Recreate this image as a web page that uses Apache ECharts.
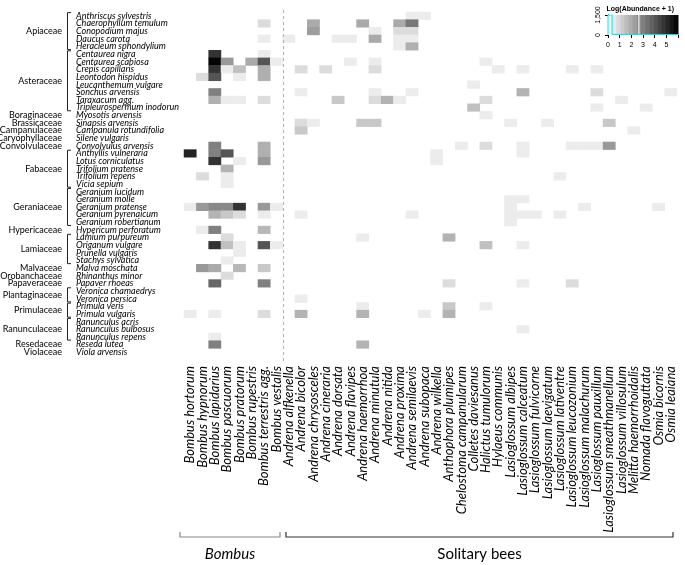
<!DOCTYPE html>
<html><head><meta charset="utf-8">
<script src="https://cdn.jsdelivr.net/npm/echarts@6/dist/echarts.min.js"></script>
<style>html,body{margin:0;padding:0;background:#fff}#c{width:685px;height:565px}</style>
</head><body><div id="c"></div>
<script>
const beeSpecies = ['Bombus hortorum','Bombus hypnorum','Bombus lapidarius','Bombus pascuorum','Bombus pratorum','Bombus rupestris','Bombus terrestris agg.','Bombus vestalis',
 'Andrena alfkenella','Andrena bicolor','Andrena chrysosceles','Andrena cineraria','Andrena dorsata','Andrena flavipes','Andrena haemorrhoa','Andrena minutula','Andrena nitida','Andrena proxima','Andrena semilaevis','Andrena subopaca','Andrena wilkella',
 'Anthophora plumipes','Chelostoma campanularum','Colletes daviesanus','Halictus tumulorum','Hylaeus communis',
 'Lasioglossum albipes','Lasioglossum calceatum','Lasioglossum fulvicorne','Lasioglossum laevigatum','Lasioglossum lativentre','Lasioglossum leucozonium','Lasioglossum malachurum','Lasioglossum pauxillum','Lasioglossum smeathmanellum','Lasioglossum villosulum',
 'Melitta haemorrhoidalis','Nomada flavoguttata','Osmia bicornis','Osmia leaiana'];
const beeGroups = ['Bombus','Solitary bees'];
const beeGroupSizes = [8, 32];

const plantSpecies = ['Anthriscus sylvestris','Chaerophyllum temulum','Conopodium majus','Daucus carota','Heracleum sphondylium',
 'Centaurea nigra','Centaurea scabiosa','Crepis capillaris','Leontodon hispidus','Leucanthemum vulgare','Sonchus arvensis','Taraxacum agg.','Tripleurospermum inodorun',
 'Myosotis arvensis','Sinapsis arvensis','Campanula rotundifolia','Silene vulgaris','Convolvulus arvensis',
 'Anthyllis vulneraria','Lotus corniculatus','Trifolium pratense','Trifolium repens','Vicia sepium',
 'Geranium lucidum','Geranium molle','Geranium pratense','Geranium pyrenaicum','Geranium robertianum',
 'Hypericum perforatum','Lamium purpureum','Origanum vulgare','Prunella vulgaris','Stachys sylvatica',
 'Malva moschata','Rhinanthus minor','Papaver rhoeas','Veronica chamaedrys','Veronica persica',
 'Primula veris','Primula vulgaris','Ranunculus acris','Ranunculus bulbosus','Ranunculus repens','Reseda lutea','Viola arvensis'];
const plantFamilies = ['Apiaceae','Asteraceae','Boraginaceae','Brassicaceae','Campanulaceae','Caryophyllaceae','Convolvulaceae','Fabaceae','Geraniaceae','Hypericaceae','Lamiaceae','Malvaceae','Orobanchaceae','Papaveraceae','Plantaginaceae','Primulaceae','Ranunculaceae','Resedaceae','Violaceae'];
const familySizes = [5,8,1,1,1,1,1,5,5,1,4,1,1,1,2,2,3,1,1];

// [plant row, bee column, log(abundance + 1)]
const cells = [
 [0,18,.45],[0,19,.45],
 [1,6,.82],[1,10,2.0],[1,14,2.0],[1,17,2.0],[1,18,3.2],
 [2,10,2.3],[2,15,.45],[2,17,.82],[2,18,.82],
 [3,6,.45],[3,8,.45],[3,12,.45],[3,13,.45],[3,15,2.0],[3,17,.45],[3,18,.45],
 [4,17,.45],[4,18,1.86],
 [5,2,4.8],[5,6,.45],
 [6,2,5.9],[6,3,2.4],[6,5,2.0],[6,6,4.0],[6,7,.45],[6,13,.45],[6,15,.45],[6,24,.45],
 [7,2,4.8],[7,3,.45],[7,4,1.48],[7,6,1.86],[7,9,.82],[7,11,.82],[7,15,.82],[7,25,.45],[7,27,.45],[7,31,.45],[7,33,.45],
 [8,1,.82],[8,2,4.0],[8,4,.45],[8,6,1.86],
 [9,23,.45],
 [10,2,3.0],[10,9,.45],[10,15,.45],[10,18,.45],[10,27,1.79],[10,33,.82],[10,39,.45],
 [11,2,1.86],[11,3,.45],[11,4,.45],[11,6,.82],[11,12,1.29],[11,15,.82],[11,16,1.79],[11,17,.45],[11,24,.82],[11,35,.45],
 [12,23,1.48],[12,33,.45],[12,37,.45],
 [13,24,.45],
 [14,9,.82],[14,10,.45],[14,14,1.29],[14,15,1.29],[14,26,.45],[14,29,.45],[14,34,1.29],
 [15,9,1.29],[15,36,.45],
 [17,2,3.0],[17,6,1.86],[17,22,.45],[17,24,.82],[17,27,.45],[17,31,.45],[17,32,.45],[17,33,.45],[17,34,2.4],
 [18,0,5.2],[18,2,3.0],[18,3,4.0],[18,6,1.86],[18,20,.45],[18,27,.45],
 [19,2,4.8],[19,4,.45],[19,6,2.4],[19,20,.45],
 [20,3,1.79],
 [21,1,.82],[21,3,.45],[21,30,.45],
 [22,3,.45],
 [24,26,.45],[24,27,.45],
 [25,0,.45],[25,1,2.4],[25,2,2.8],[25,3,2.8],[25,4,4.8],[25,6,2.4],[25,7,.45],[25,26,.45],[25,32,.45],[25,38,.45],
 [26,2,1.79],[26,3,1.29],[26,4,.82],[26,6,.45],[26,9,.45],[26,18,.45],[26,26,.45],[26,27,.45],[26,28,.45],[26,30,.45],
 [27,26,.45],
 [28,1,.45],[28,2,3.0],[28,6,1.67],
 [29,3,.82],[29,14,.45],[29,21,1.79],
 [30,2,4.8],[30,3,1.48],[30,4,.45],[30,6,4.0],[30,7,.45],[30,24,1.48],[30,27,.45],
 [31,4,.45],
 [32,3,.45],
 [33,1,2.4],[33,2,2.0],[33,4,1.67],[33,6,1.29],
 [34,3,.82],
 [35,2,3.6],[35,6,3.0],[35,21,.82],[35,27,.45],[35,31,.82],
 [37,9,.45],
 [38,14,.45],[38,21,1.29],[38,24,.45],
 [39,0,.45],[39,2,.45],[39,6,.82],[39,9,1.79],[39,14,1.79],[39,19,.45],[39,21,1.79],
 [41,27,.45],
 [42,2,.45],
 [43,2,3.0],[43,14,1.79]
];

// colour key
const keyTicks = [0,1,2,3,4,5];
const keyMax = 6;
const keySteps = 17;
const keyHistogram = [[0,0],[0,1500],[0.35,1500],[0.35,40],[6,40]];
const keyMarker = 2.65;

// derived helpers
const familyStart = [];
{ let acc = 0; familySizes.forEach(s => { familyStart.push(acc); acc += s; }); }
const familyLabelAt = plantSpecies.map(() => '');
plantFamilies.forEach((f, k) => {
  const s = familySizes[k];
  const r = familyStart[k] + Math.floor((s - 1) / 2);
  familyLabelAt[r] = (s % 2 === 0 ? '\n' : '') + f;
});
const familyBrackets = [];
plantFamilies.forEach((f, k) => { if (familySizes[k] > 1) familyBrackets.push([0, familyStart[k], familyStart[k] + familySizes[k] - 1]); });
const groupSpans = [];
{ let acc = 0; beeGroupSizes.forEach((s, g) => { groupSpans.push([acc, acc + s - 1, g]); acc += s; }); }
const groupInsets = [[-4, 2.6], [3.4, 4]];
const keyBins = [];
for (let i = 0; i < keySteps; i++) { const a = i * keyMax / keySteps, b = (i + 1) * keyMax / keySteps; keyBins.push([a, b, (a + b) / 2]); }

const chart = echarts.init(document.getElementById('c'), null, {renderer: 'canvas'});
const FONT = 'Lato, "Open Sans", sans-serif';
chart.setOption({
  animation: false,
  backgroundColor: '#fff',
  title: { text: 'Log(Abundance + 1)', right: 6, top: 1,
    textStyle: { fontSize: 7, fontWeight: 'bold', fontFamily: '"Liberation Sans", Arial', color: '#000' } },
  grid: [
    { left: 184, right: 8, top: 12, bottom: 209, outerBoundsMode: 'none', containLabel: false },
    { left: 608, top: 15, width: 70, height: 20, outerBoundsMode: 'none', containLabel: false }
  ],
  visualMap: { type: 'continuous', show: false, min: 0, max: 6, dimension: 2, seriesIndex: [0, 3],
    inRange: { color: ['#ffffff', '#000000'] } },
  xAxis: [
    { type: 'category', gridIndex: 0, data: beeSpecies, position: 'bottom',
      axisLine: { show: false }, axisTick: { show: false }, splitLine: { show: false },
      axisLabel: { rotate: 90, interval: 0, fontSize: 13, fontStyle: 'italic', fontFamily: FONT, color: '#000', margin: 10 } },
    { type: 'value', gridIndex: 1, min: 0, max: keyMax, interval: 1, offset: 2,
      axisLine: { show: false }, axisTick: { show: true, length: 3, lineStyle: { color: '#000' } },
      axisLabel: { fontSize: 7, margin: 5, color: '#000', fontFamily: '"Liberation Sans", Arial', formatter: v => keyTicks.includes(v) ? String(v) : '' },
      splitLine: { show: false } }
  ],
  yAxis: [
    { type: 'category', gridIndex: 0, data: plantSpecies, inverse: true, position: 'left',
      axisLine: { show: false }, axisTick: { show: false }, splitLine: { show: false },
      axisLabel: { interval: 0, align: 'left', margin: 108, fontSize: 9, fontStyle: 'italic', fontFamily: FONT, color: '#000' } },
    { type: 'category', gridIndex: 0, data: plantSpecies, inverse: true, position: 'left', offset: 0,
      axisLine: { show: false }, axisTick: { show: false }, splitLine: { show: false },
      axisLabel: { interval: 0, align: 'right', margin: 122, fontSize: 9, fontFamily: FONT, color: '#000', lineHeight: 7.64,
        formatter: (v, i) => familyLabelAt[i] } },
    { type: 'value', gridIndex: 1, min: 0, max: 1500, interval: 1500, offset: 3,
      axisLine: { show: true, lineStyle: { color: '#000' } }, axisTick: { show: true, length: 3, lineStyle: { color: '#000' } },
      axisLabel: { rotate: 90, fontSize: 7, margin: 3, color: '#000', fontFamily: '"Liberation Sans", Arial' },
      splitLine: { show: false } }
  ],
  series: [
    { type: 'heatmap', xAxisIndex: 0, yAxisIndex: 0, silent: true,
      data: cells.map(c => [c[1], c[0], c[2]]),
      itemStyle: { borderWidth: 0 }, emphasis: { disabled: true } },
    { type: 'custom', xAxisIndex: 0, yAxisIndex: 0, silent: true, clip: false, z: 5,
      data: familyBrackets, encode: { x: 0, y: [1, 2] },
      renderItem: (params, api) => {
        const h = api.size([0, 1])[1];
        const top = api.coord([0, api.value(1)])[1] - 0.42 * h;
        const bot = api.coord([0, api.value(2)])[1] + 0.42 * h;
        const x = params.coordSys.x - 116.5;
        return { type: 'polyline', shape: { points: [[x + 3.5, top], [x, top], [x, bot], [x + 3.5, bot]] },
          style: { stroke: '#222', fill: null, lineWidth: 1 } };
      } },
    { type: 'custom', xAxisIndex: 0, yAxisIndex: 0, silent: true, clip: false, z: 5,
      data: groupSpans, encode: { x: [0, 1] },
      renderItem: (params, api) => {
        const g = api.value(2);
        const cs = params.coordSys;
        const w = api.size([1, 0])[0];
        const edge = api.coord([api.value(0), 0])[0] - w / 2;
        const x0 = edge + groupInsets[g][0];
        const x1 = api.coord([api.value(1), 0])[0] + w / 2 - groupInsets[g][1];
        const y = cs.y + cs.height + 181;
        const children = [
          { type: 'polyline', shape: { points: [[x0, y - 5], [x0, y], [x1, y], [x1, y - 5]] },
            style: { stroke: g === 0 ? '#888' : '#333', fill: null, lineWidth: 1.2 } },
          { type: 'text', style: { text: beeGroups[g], x: (x0 + x1) / 2, y: y + 17, align: 'center', verticalAlign: 'middle',
            fontSize: 15, fontStyle: g === 0 ? 'italic' : 'normal', fontFamily: FONT, fill: '#000' } }
        ];
        if (g > 0) {
          const xe = Math.round(edge) + 0.5;
          children.push({ type: 'line', shape: { x1: xe, y1: cs.y - 2, x2: xe, y2: cs.y + cs.height + 6 },
            style: { stroke: '#b0b0b0', lineWidth: 1, lineDash: [3, 3] } });
        }
        return { type: 'group', children };
      } },
    { type: 'custom', xAxisIndex: 1, yAxisIndex: 2, silent: true, clip: false,
      data: keyBins, encode: { x: [0, 1] },
      renderItem: (params, api) => {
        const p0 = api.coord([api.value(0), 1500]);
        const p1 = api.coord([api.value(1), 0]);
        return { type: 'rect', shape: { x: p0[0], y: p0[1], width: p1[0] - p0[0] + 0.5, height: p1[1] - p0[1] },
          style: { fill: api.visual('color') } };
      } },
    { type: 'line', xAxisIndex: 1, yAxisIndex: 2, silent: true, symbol: 'none', z: 6,
      data: [[keyMarker, 0], [keyMarker, 1500]], lineStyle: { color: '#fff', width: 1 } },
    { type: 'line', xAxisIndex: 1, yAxisIndex: 2, silent: true, symbol: 'none', z: 7,
      data: keyHistogram, lineStyle: { color: '#00e5ee', width: 1 } }
  ]
});
</script></body></html>
